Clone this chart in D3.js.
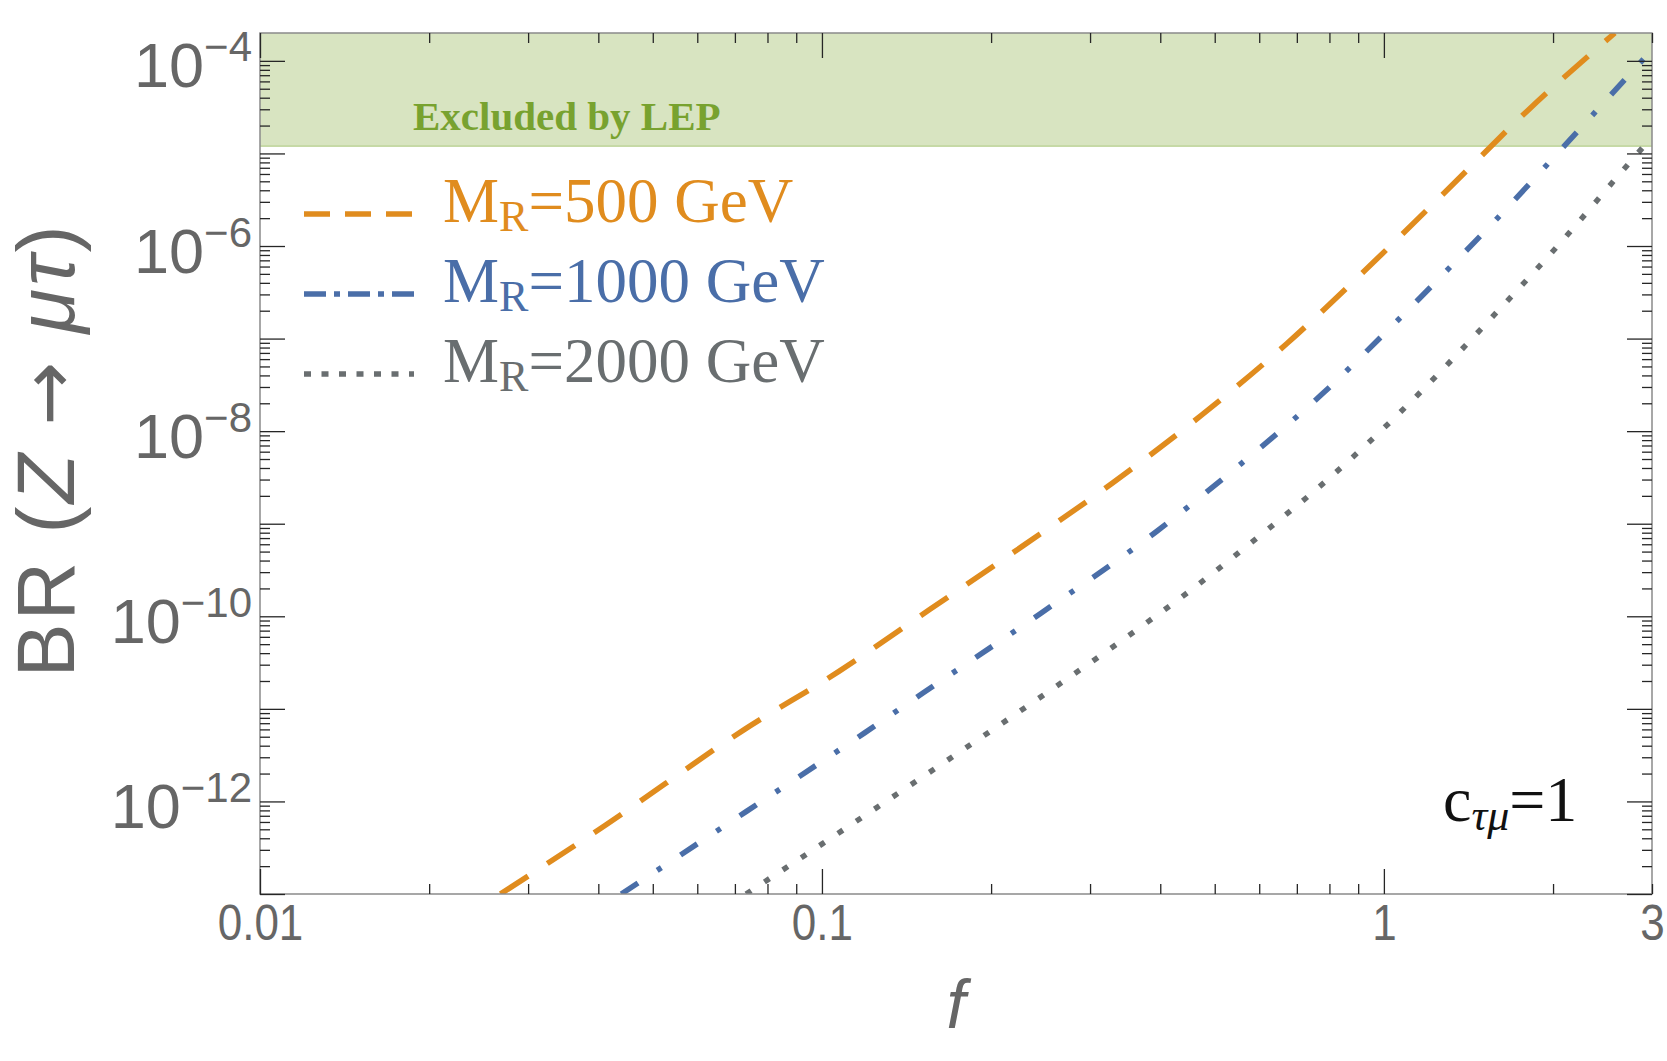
<!DOCTYPE html>
<html>
<head>
<meta charset="utf-8">
<script src="https://cdn.jsdelivr.net/npm/d3@7"></script>
<style>
  body { margin: 0; background: #fff; }
  svg { display: block; }
  .sans { font-family: "Liberation Sans", Arial, Helvetica, sans-serif; }
  .serif { font-family: "Liberation Serif", "Times New Roman", Times, serif; }
</style>
</head>
<body>
<div id="chart"></div>
<script>
// values
const massValues = [500, 1000, 2000];

const f500 = [0.02679, 0.04123, 0.07295, 0.1072, 0.1557, 0.2271, 0.3294, 0.4737, 0.6722, 0.9378, 1.3015, 1.8017, 2.5763];
const br500 = [1.0e-13, 5.57e-13, 6.04e-12, 2.54e-11, 1.19e-10, 5.69e-10, 2.77e-9, 1.49e-8, 8.85e-8, 5.89e-7, 4.13e-6, 2.90e-5, 2.0e-4];

const f1000 = [0.04395, 0.07328, 0.1191, 0.1515, 0.2453, 0.3939, 0.5544, 0.7720, 1.0534, 1.2929, 1.5867, 2.1326, 2.8536, 3.0];
const br1000 = [1.0e-13, 7.76e-13, 5.50e-12, 1.49e-11, 1.08e-10, 8.24e-10, 4.34e-9, 2.44e-8, 1.53e-7, 5.40e-7, 1.95e-6, 1.36e-5, 9.44e-5, 1.32e-4];

const f2000 = [0.07328, 0.1001, 0.1578, 0.2483, 0.3348, 0.4504, 0.5993, 0.7939, 1.039, 1.6196, 2.0715, 2.6303, 3.0];
const br2000 = [1.0e-13, 3.48e-13, 2.20e-12, 1.42e-11, 5.02e-11, 1.86e-10, 7.29e-10, 2.99e-9, 1.35e-8, 2.19e-7, 1.12e-6, 6.03e-6, 1.51e-5];

const lepLimit = 1.2e-5;
const xDomain = [0.01, 3];
const yDomain = [1e-13, 2e-4];
const xTickLabels = [0.01, 0.1, 1, 3];
const yLabelExponents = [-4, -6, -8, -10, -12];

class BRChart {
  constructor(_config) {
    this.config = {
      parentElement: _config.parentElement,
      containerWidth: 1667,
      containerHeight: 1061,
      margin: { top: 33, left: 260, right: 15, bottom: 167 },
    };
    this.series = [
      { mass: massValues[0], f: f500, br: br500, color: '#e08c1e', dash: '33,23', legendDash: '26,15' },
      { mass: massValues[1], f: f1000, br: br1000, color: '#4a6ea8', dash: '20,23,5,23', legendDash: '22,8,6,8' },
      { mass: massValues[2], f: f2000, br: br2000, color: '#696e70', dash: '6,16', legendDash: '7,10.5' },
    ];
    this.initVis();
  }

  initVis() {
    let vis = this;

    vis.width = vis.config.containerWidth - vis.config.margin.left - vis.config.margin.right;
    vis.height = vis.config.containerHeight - vis.config.margin.top - vis.config.margin.bottom;

    vis.svg = d3.select(vis.config.parentElement)
      .append('svg')
      .attr('width', vis.config.containerWidth)
      .attr('height', vis.config.containerHeight);

    vis.chart = vis.svg.append('g')
      .attr('transform', `translate(${vis.config.margin.left},${vis.config.margin.top})`);

    vis.xScale = d3.scaleLog().domain(xDomain).range([0, vis.width]);
    vis.yScale = d3.scaleLog().domain(yDomain).range([vis.height, 0]);

    vis.svg.append('defs').append('clipPath')
      .attr('id', 'plot-clip')
      .append('rect')
      .attr('width', vis.width)
      .attr('height', vis.height);

    vis.renderVis();
  }

  renderVis() {
    let vis = this;

    // excluded band
    const bandY = vis.yScale(lepLimit);
    vis.chart.append('rect')
      .attr('x', 0)
      .attr('y', 0)
      .attr('width', vis.width)
      .attr('height', bandY)
      .attr('fill', '#d8e4c1');
    vis.chart.append('line')
      .attr('x1', 0).attr('x2', vis.width)
      .attr('y1', bandY).attr('y2', bandY)
      .attr('stroke', '#c6d9a6')
      .attr('stroke-width', 2);

    vis.chart.append('text')
      .attr('class', 'serif')
      .attr('x', 153)
      .attr('y', 97)
      .attr('font-size', 41)
      .attr('font-weight', 'bold')
      .attr('fill', '#78a22f')
      .text('Excluded by LEP');

    // curves
    const line = d3.line()
      .x((d) => vis.xScale(d[0]))
      .y((d) => vis.yScale(d[1]))
      .curve(d3.curveMonotoneX);

    vis.chart.append('g')
      .attr('clip-path', 'url(#plot-clip)')
      .selectAll('.curve')
      .data(vis.series)
      .join('path')
      .attr('class', 'curve')
      .attr('d', (s) => line(s.f.map((v, i) => [v, s.br[i]])))
      .attr('fill', 'none')
      .attr('stroke', (s) => s.color)
      .attr('stroke-width', 5.5)
      .attr('stroke-dasharray', (s) => s.dash);

    // frame
    vis.chart.append('rect')
      .attr('width', vis.width)
      .attr('height', vis.height)
      .attr('fill', 'none')
      .attr('stroke', '#8a8a8a')
      .attr('stroke-width', 1.5);

    // ticks on all four sides, pointing inwards
    const decadesX = [0.01, 0.1, 1];
    const minorX = [];
    decadesX.forEach((d) => {
      for (let k = 2; k <= 9; k++) if (k * d <= 3.0001) minorX.push(k * d);
    });
    const decadesY = d3.range(-13, -3).map((e) => Math.pow(10, e));
    const minorY = [];
    decadesY.slice(0, -1).forEach((d) => {
      for (let k = 2; k <= 9; k++) minorY.push(k * d);
    });

    const tickAxis = (axisFn, scale, values, size, tx, ty) => {
      vis.chart.append('g')
        .attr('transform', `translate(${tx},${ty})`)
        .call(axisFn(scale).tickValues(values).tickSize(-size).tickFormat(''))
        .call((g) => g.select('.domain').remove())
        .call((g) => g.selectAll('line').attr('stroke', '#262626').attr('stroke-width', 1.3));
    };
    tickAxis(d3.axisBottom, vis.xScale, decadesX, 25, 0, vis.height);
    tickAxis(d3.axisBottom, vis.xScale, minorX, 10, 0, vis.height);
    tickAxis(d3.axisTop, vis.xScale, decadesX, 25, 0, 0);
    tickAxis(d3.axisTop, vis.xScale, minorX, 10, 0, 0);
    tickAxis(d3.axisLeft, vis.yScale, decadesY, 25, 0, 0);
    tickAxis(d3.axisLeft, vis.yScale, minorY, 10, 0, 0);
    tickAxis(d3.axisRight, vis.yScale, decadesY, 25, vis.width, 0);
    tickAxis(d3.axisRight, vis.yScale, minorY, 10, vis.width, 0);

    // x tick labels
    vis.chart.append('g')
      .attr('transform', `translate(0,${vis.height})`)
      .call(d3.axisBottom(vis.xScale).tickValues(xTickLabels).tickSize(0).tickPadding(11)
        .tickFormat((d) => d3.format('~g')(d)))
      .call((g) => g.select('.domain').remove())
      .call((g) => g.selectAll('text')
        .attr('class', 'sans')
        .attr('font-size', 50)
        .attr('fill', '#666')
        .attr('transform', 'scale(0.88,1)'));

    // y tick labels 10^n
    vis.chart.append('g')
      .call(d3.axisLeft(vis.yScale).tickValues(yLabelExponents.map((e) => Math.pow(10, e)))
        .tickSize(0).tickPadding(8).tickFormat(''))
      .call((g) => g.select('.domain').remove())
      .call((g) => g.selectAll('text')
        .attr('class', 'sans')
        .attr('fill', '#666')
        .attr('font-size', 63)
        .attr('dy', 26)
        .each(function (d) {
          const t = d3.select(this);
          const e = Math.round(Math.log10(d));
          t.append('tspan').text('10');
          t.append('tspan').attr('dy', -26).attr('font-size', 42).text('\u2212' + Math.abs(e));
        }));

    // axis titles
    vis.svg.append('text')
      .attr('class', 'sans')
      .attr('x', vis.config.margin.left + vis.width / 2)
      .attr('y', 1028)
      .attr('text-anchor', 'middle')
      .attr('font-size', 68)
      .attr('font-style', 'italic')
      .attr('fill', '#666')
      .text('f');

    const yTitle = vis.svg.append('text')
      .attr('class', 'sans')
      .attr('transform', 'translate(74,450) rotate(-90)')
      .attr('text-anchor', 'middle')
      .attr('font-size', 81)
      .attr('letter-spacing', 3)
      .attr('fill', '#666');
    yTitle.append('tspan').text('BR (');
    yTitle.append('tspan').attr('font-style', 'italic').text('Z');
    yTitle.append('tspan').text(' ');
    yTitle.append('tspan').attr('font-family', '"DejaVu Sans", sans-serif').attr('font-size', 76).text('\u2192');
    yTitle.append('tspan').text(' ');
    yTitle.append('tspan').attr('font-style', 'italic').text('\u03bc\u03c4');
    yTitle.append('tspan').text(')');

    // legend
    const legend = vis.chart.append('g').attr('class', 'legend');
    const rows = legend.selectAll('.legend-row')
      .data(vis.series)
      .join('g')
      .attr('class', 'legend-row')
      .attr('transform', (s, i) => `translate(0,${189 + i * 80})`);
    rows.append('line')
      .attr('x1', 44).attr('x2', 154)
      .attr('y1', -8).attr('y2', -8)
      .attr('stroke', (s) => s.color)
      .attr('stroke-width', 5.5)
      .attr('stroke-dasharray', (s) => s.legendDash);
    const lt = rows.append('text')
      .attr('class', 'serif')
      .attr('x', 183)
      .attr('font-size', 63)
      .attr('fill', (s) => s.color);
    lt.append('tspan').text('M');
    lt.append('tspan').attr('font-size', 44).attr('dy', 9).text('R');
    lt.append('tspan').attr('dy', -9).text((s) => `=${s.mass} GeV`);

    // coupling note
    const note = vis.chart.append('text')
      .attr('class', 'serif')
      .attr('x', 1183)
      .attr('y', 788)
      .attr('font-size', 64)
      .attr('fill', '#111');
    note.append('tspan').text('c');
    note.append('tspan').attr('font-size', 44).attr('font-style', 'italic').attr('dy', 9).text('\u03c4\u03bc');
    note.append('tspan').attr('dy', -9).text('=1');
  }
}

new BRChart({ parentElement: '#chart' });
</script>
</body>
</html>
